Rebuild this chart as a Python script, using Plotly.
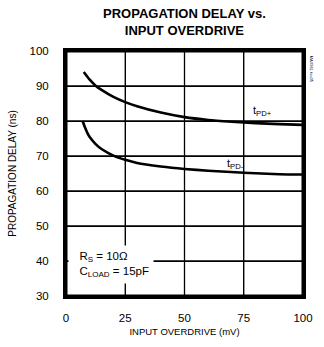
import plotly.graph_objects as go

# data
overdrive_plus = [7.5, 10, 12.5, 15, 20, 25, 30, 40, 50, 60, 70, 80, 90, 100]
tpd_plus = [94.0, 91.8, 90.1, 88.9, 86.9, 85.4, 84.2, 82.4, 81.1, 80.3, 79.8, 79.4, 79.1, 78.9]
overdrive_minus = [7.0, 8.0, 9.0, 10, 12.5, 15, 20, 25, 30, 40, 50, 60, 75, 90, 100]
tpd_minus = [80.0, 78.2, 76.6, 75.4, 73.4, 72.0, 70.1, 68.9, 68.0, 67.0, 66.3, 65.8, 65.2, 64.8, 64.7]

x_ticks = [0, 25, 50, 75, 100]
y_ticks = [30, 40, 50, 60, 70, 80, 90, 100]

font_main = "Liberation Sans Narrow, Arial Narrow, Liberation Sans, Arial, sans-serif"
x_lo, x_hi = x_ticks[0], x_ticks[-1]
y_lo, y_hi = y_ticks[0], y_ticks[-1]

fig = go.Figure()

# grid drawn as line traces built from the tick arrays
gx, gy = [], []
for xv in x_ticks[1:-1]:
    gx += [xv, xv, None]
    gy += [y_lo, y_hi, None]
for yv in y_ticks[1:-1]:
    gx += [x_lo, x_hi, None]
    gy += [yv, yv, None]
fig.add_trace(go.Scatter(x=gx, y=gy, mode="lines", line=dict(color="black", width=1.3),
                         hoverinfo="skip", connectgaps=False))
# frame
fig.add_trace(go.Scatter(x=[x_lo, x_hi, x_hi, x_lo, x_lo], y=[y_lo, y_lo, y_hi, y_hi, y_lo],
                         mode="lines", line=dict(color="black", width=3), hoverinfo="skip"))

fig.add_trace(go.Scatter(x=overdrive_plus, y=tpd_plus, mode="lines",
                         line=dict(color="black", width=2.6, shape="spline", smoothing=0.6),
                         hoverinfo="skip"))
fig.add_trace(go.Scatter(x=overdrive_minus, y=tpd_minus, mode="lines",
                         line=dict(color="black", width=2.6, shape="spline", smoothing=0.6),
                         hoverinfo="skip"))

fig.update_layout(
    width=324, height=347,
    margin=dict(l=64, r=11, t=51, b=48),
    paper_bgcolor="white", plot_bgcolor="white",
    showlegend=False,
    font=dict(family=font_main, color="black", size=11),
)
fig.update_xaxes(range=[x_lo, x_hi], tickvals=x_ticks, ticktext=[str(v) for v in x_ticks],
                 showgrid=True, gridcolor="#000000", gridwidth=1.3,
                 showline=True, linecolor="#000000", linewidth=3, mirror=True,
                 ticks="outside", ticklen=9, tickcolor="rgba(255,255,255,0)",
                 zeroline=False, tickfont=dict(size=11.5),
                 title=dict(text="INPUT OVERDRIVE (mV)", font=dict(size=9.5), standoff=6))
fig.update_yaxes(range=[y_lo, y_hi], tickvals=y_ticks, ticktext=[str(v) for v in y_ticks],
                 showgrid=True, gridcolor="#000000", gridwidth=1.3,
                 showline=True, linecolor="#000000", linewidth=3, mirror=True,
                 ticks="outside", ticklen=12, tickcolor="rgba(255,255,255,0)",
                 zeroline=False, tickfont=dict(size=11.5),
                 title=dict(text="PROPAGATION DELAY (ns)", font=dict(size=10), standoff=12))

fig.add_annotation(xref="paper", yref="paper", x=0.5, y=1.0, yshift=47,
                   text="<b>PROPAGATION DELAY vs.<br>INPUT OVERDRIVE</b>",
                   showarrow=False, xanchor="center", yanchor="top",
                   font=dict(size=13))
fig.add_annotation(x=78, y=82.8, text="t<sub>PD+</sub>", showarrow=False,
                   xanchor="left", font=dict(size=11))
fig.add_annotation(x=67, y=67.8, text="t<sub>PD-</sub>", showarrow=False,
                   xanchor="left", font=dict(size=11))
fig.add_annotation(x=0.8, y=39.0,
                   text="&nbsp;&nbsp;R<sub>S</sub> = 10Ω<br>&nbsp;&nbsp;C<sub>LOAD</sub> = 15pF",
                   showarrow=False, xanchor="left", yanchor="middle", align="left",
                   bgcolor="white", borderpad=4, font=dict(size=11.5))
fig.add_annotation(xref="paper", yref="paper", x=1.035, y=0.99, text="MAX961 toc05",
                   showarrow=False, textangle=90, xanchor="center", yanchor="top",
                   font=dict(size=4))

fig.write_html("out.html", config={"displayModeBar": False},
               post_script="document.body.style.margin='0';document.body.style.padding='0';")
